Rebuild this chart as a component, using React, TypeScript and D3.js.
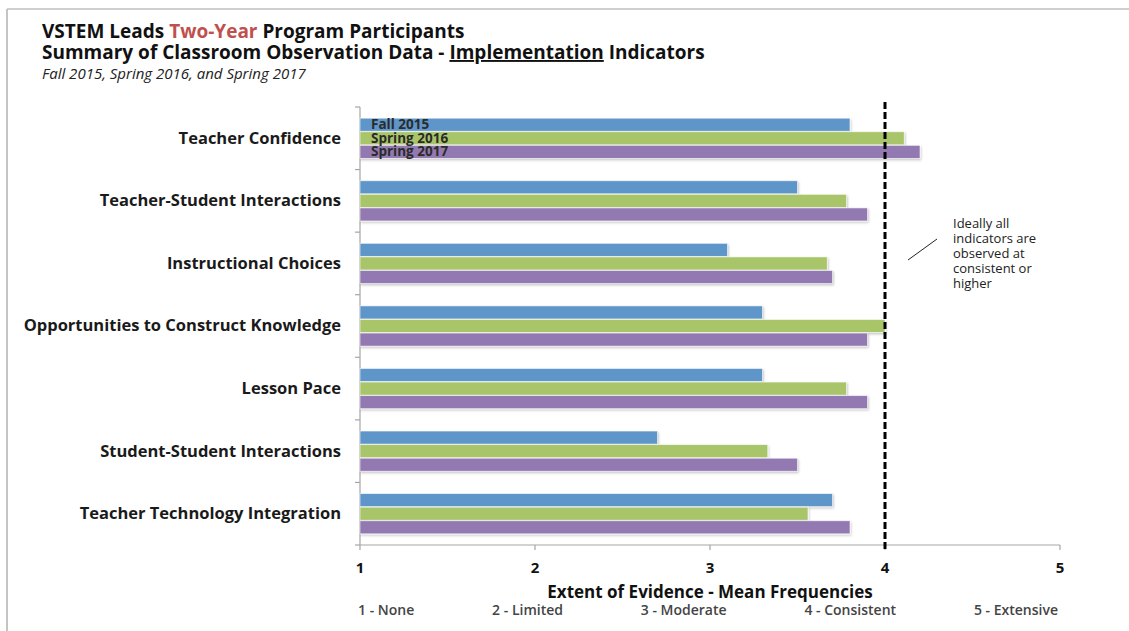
import React, { useEffect, useRef } from 'react';
import * as d3 from 'd3';

const categories = [
  'Teacher Confidence',
  'Teacher-Student Interactions',
  'Instructional Choices',
  'Opportunities to Construct Knowledge',
  'Lesson Pace',
  'Student-Student Interactions',
  'Teacher Technology Integration',
];
const seriesNames = ['Fall 2015', 'Spring 2016', 'Spring 2017'];
const fall2015 = [3.8, 3.5, 3.1, 3.3, 3.3, 2.7, 3.7];
const spring2016 = [4.11, 3.78, 3.67, 4.0, 3.78, 3.33, 3.56];
const spring2017 = [4.2, 3.9, 3.7, 3.9, 3.9, 3.5, 3.8];
const seriesColors = ['#5f96ca', '#a9c56b', '#9379b1'];
const xTicks = [1, 2, 3, 4, 5];
const scaleLabels = ['1 - None', '2 - Limited', '3 - Moderate', '4 - Consistent', '5 - Extensive'];
const targetValue = 4;
const noteLines = ['Ideally all', 'indicators are', 'observed at', 'consistent or', 'higher'];

const W = 1129;
const H = 631;
const FONT = '"Open Sans", Lato, sans-serif';

export default function App() {
  const ref = useRef<SVGSVGElement>(null);

  useEffect(() => {
    const svg = d3.select(ref.current);
    svg.selectAll('*').remove();

    const left = 360, right = 1060, top = 107, bottom = 545;
    const x = d3.scaleLinear().domain([1, 5]).range([left, right]);
    const y = d3.scaleBand<string>().domain(categories).range([top, bottom])
      .paddingInner(0.34).paddingOuter(0.17);
    const ySub = d3.scaleBand<string>().domain(seriesNames).range([0, y.bandwidth()]).padding(0.04);
    const allSeries = [fall2015, spring2016, spring2017];

    // slide frame
    svg.append('line').attr('x1', 7).attr('x2', W).attr('y1', 9).attr('y2', 9)
      .attr('stroke', '#cfcfcf').attr('stroke-width', 2);
    svg.append('line').attr('x1', 7).attr('x2', 7).attr('y1', 9).attr('y2', H)
      .attr('stroke', '#c4c4c4').attr('stroke-width', 2);

    // titles
    const t1 = svg.append('text').attr('x', 42).attr('y', 38)
      .attr('font-family', FONT).attr('font-weight', 700).attr('font-size', 19).attr('fill', '#111');
    t1.append('tspan').text('VSTEM Leads ');
    t1.append('tspan').attr('fill', '#c0504d').text('Two-Year');
    t1.append('tspan').text(' Program Participants');
    const t2 = svg.append('text').attr('x', 42).attr('y', 59)
      .attr('font-family', FONT).attr('font-weight', 700).attr('font-size', 19).attr('fill', '#111');
    t2.append('tspan').text('Summary of Classroom Observation Data - ');
    t2.append('tspan').attr('text-decoration', 'underline').text('Implementation');
    t2.append('tspan').text(' Indicators');
    svg.append('text').attr('x', 42).attr('y', 79)
      .attr('font-family', FONT).attr('font-style', 'italic').attr('font-size', 15).attr('fill', '#222')
      .text('Fall 2015, Spring 2016, and Spring 2017');

    // axes
    const axisColor = '#a6a6a6';
    svg.append('line').attr('x1', left).attr('x2', left).attr('y1', top).attr('y2', bottom)
      .attr('stroke', axisColor).attr('stroke-width', 1.2);
    svg.append('line').attr('x1', left).attr('x2', right).attr('y1', bottom).attr('y2', bottom)
      .attr('stroke', axisColor).attr('stroke-width', 1.2);
    const step = y.step();
    d3.range(categories.length + 1).forEach((i) => {
      const yy = top + i * step;
      svg.append('line').attr('x1', left - 5).attr('x2', left).attr('y1', yy).attr('y2', yy)
        .attr('stroke', axisColor).attr('stroke-width', 1.2);
    });
    xTicks.forEach((t) => {
      svg.append('line').attr('x1', x(t)).attr('x2', x(t)).attr('y1', bottom).attr('y2', bottom + 5)
        .attr('stroke', axisColor).attr('stroke-width', 1.2);
      svg.append('text').attr('x', x(t)).attr('y', 573).attr('text-anchor', 'middle')
        .attr('font-family', FONT).attr('font-weight', 700).attr('font-size', 15).attr('fill', '#111')
        .text(String(t));
    });

    // category labels
    categories.forEach((c) => {
      svg.append('text').attr('x', 341).attr('y', (y(c) as number) + y.bandwidth() / 2 + 1)
        .attr('text-anchor', 'end').attr('dominant-baseline', 'middle')
        .attr('font-family', FONT).attr('font-weight', 700).attr('font-size', 16.5).attr('fill', '#1a1a1a')
        .text(c);
    });

    // bars
    const defs = svg.append('defs');
    const f = defs.append('filter').attr('id', 'sh').attr('x', '-5%').attr('y', '-30%')
      .attr('width', '110%').attr('height', '170%');
    f.append('feDropShadow').attr('dx', 1).attr('dy', 1.5).attr('stdDeviation', 1)
      .attr('flood-color', '#000').attr('flood-opacity', 0.22);

    categories.forEach((c, ci) => {
      seriesNames.forEach((s, si) => {
        const v = allSeries[si][ci];
        svg.append('rect')
          .attr('x', x(1)).attr('y', (y(c) as number) + (ySub(s) as number))
          .attr('width', x(v) - x(1)).attr('height', ySub.bandwidth())
          .attr('fill', seriesColors[si]).attr('stroke', 'rgba(255,255,255,0.7)').attr('stroke-width', 0.8)
          .attr('filter', 'url(#sh)');
      });
    });

    // legend text inside first group
    seriesNames.forEach((s) => {
      svg.append('text').attr('x', 371)
        .attr('y', (y(categories[0]) as number) + (ySub(s) as number) + ySub.bandwidth() / 2 + 1)
        .attr('dominant-baseline', 'middle')
        .attr('font-family', FONT).attr('font-weight', 700).attr('font-size', 13.5).attr('fill', '#2b2b2b')
        .text(s);
    });

    // target line
    svg.append('line').attr('x1', x(targetValue)).attr('x2', x(targetValue)).attr('y1', 102).attr('y2', bottom + 5)
      .attr('stroke', '#000').attr('stroke-width', 3).attr('stroke-dasharray', '7,3');

    // annotation
    svg.append('line').attr('x1', 908).attr('y1', 260).attr('x2', 937).attr('y2', 239)
      .attr('stroke', '#222').attr('stroke-width', 1);
    noteLines.forEach((l, i) => {
      svg.append('text').attr('x', 953).attr('y', 225 + i * 14.8).attr('dominant-baseline', 'middle')
        .attr('font-family', FONT).attr('font-size', 13).attr('fill', '#222').text(l);
    });

    // axis title
    svg.append('text').attr('x', (left + right) / 2).attr('y', 598).attr('text-anchor', 'middle')
      .attr('font-family', FONT).attr('font-weight', 700).attr('font-size', 17).attr('fill', '#111')
      .text('Extent of Evidence - Mean Frequencies');

    // justified scale labels
    const labels = scaleLabels.map((l) =>
      svg.append('text').attr('y', 615).attr('font-family', FONT).attr('font-weight', 600)
        .attr('font-size', 14).attr('fill', '#444').text(l));
    const widths = labels.map((t) => (t.node() as SVGTextElement).getComputedTextLength());
    const gap = (right - left - d3.sum(widths)) / (labels.length - 1);
    let cx = left - 2;
    labels.forEach((t, i) => {
      t.attr('x', cx);
      cx += widths[i] + gap;
    });
  }, []);

  return (
    <svg ref={ref} width={W} height={H}
      style={{ position: 'absolute', left: 0, top: 0, background: '#fff' }} />
  );
}
